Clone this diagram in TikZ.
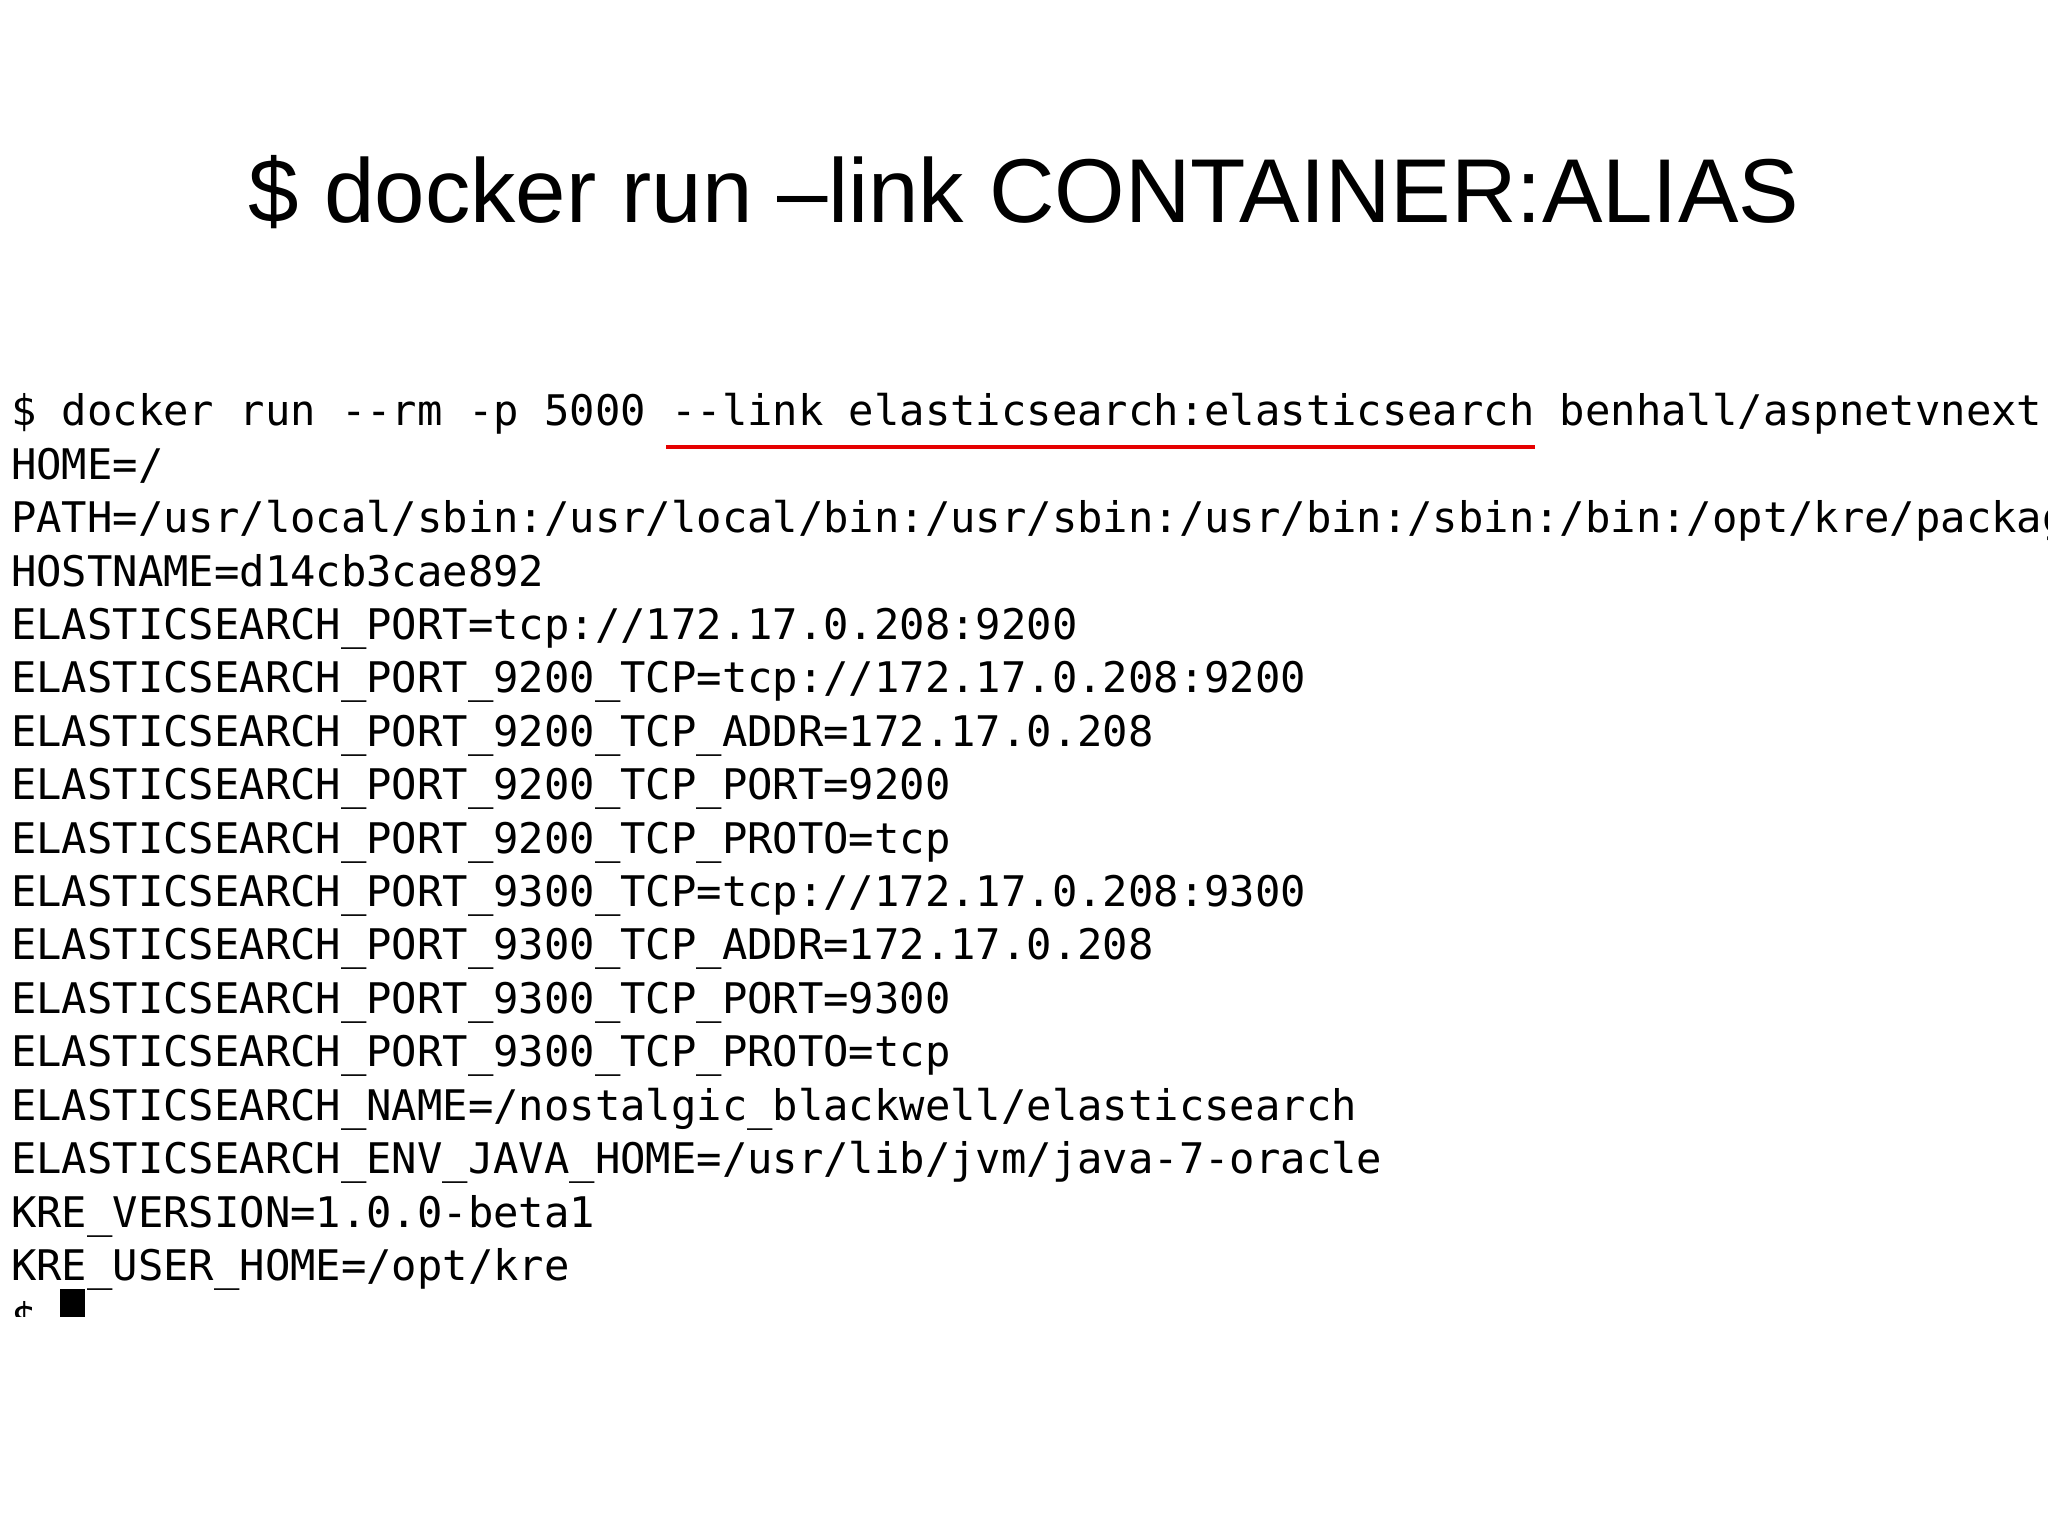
\documentclass[tikz,border=0pt]{standalone}
\usepackage{fontspec}
\setmainfont{Liberation Sans}
\newfontfamily\termfont{DejaVu Sans Mono}
\begin{document}
\begin{tikzpicture}[x=0.013061cm,y=-0.013061cm,
  term/.style={anchor=base west,inner sep=0pt,font=\termfont\fontsize{12.0pt}{14pt}\selectfont}]
\useasboundingbox (0,0) rectangle (1568,1176);
\fill[white] (0,0) rectangle (1568,1176);
\node[font=\fontsize{25.8pt}{30pt}\selectfont,anchor=base] (title) at (784,170) {\$ docker run –link CONTAINER:ALIAS};
\begin{scope}
\clip (0,290) rectangle (1568,1008);
\foreach \t [count=\i from 0] in {
 {\$ docker run --rm -p 5000 --link elasticsearch:elasticsearch benhall/aspnetvnext},
 {HOME=/},
 {PATH=/usr/local/sbin:/usr/local/bin:/usr/sbin:/usr/bin:/sbin:/bin:/opt/kre/packages},
 {HOSTNAME=d14cb3cae892},
 {ELASTICSEARCH\_PORT=tcp://172.17.0.208:9200},
 {ELASTICSEARCH\_PORT\_9200\_TCP=tcp://172.17.0.208:9200},
 {ELASTICSEARCH\_PORT\_9200\_TCP\_ADDR=172.17.0.208},
 {ELASTICSEARCH\_PORT\_9200\_TCP\_PORT=9200},
 {ELASTICSEARCH\_PORT\_9200\_TCP\_PROTO=tcp},
 {ELASTICSEARCH\_PORT\_9300\_TCP=tcp://172.17.0.208:9300},
 {ELASTICSEARCH\_PORT\_9300\_TCP\_ADDR=172.17.0.208},
 {ELASTICSEARCH\_PORT\_9300\_TCP\_PORT=9300},
 {ELASTICSEARCH\_PORT\_9300\_TCP\_PROTO=tcp},
 {ELASTICSEARCH\_NAME=/nostalgic\_blackwell/elasticsearch},
 {ELASTICSEARCH\_ENV\_JAVA\_HOME=/usr/lib/jvm/java-7-oracle},
 {KRE\_VERSION=1.0.0-beta1},
 {KRE\_USER\_HOME=/opt/kre},
 {\$}}
  \node[term] (l\i) at (8,{326+40.9*\i}) {\t};
\fill (46,987) rectangle (65,1010);
\end{scope}
\coordinate (u1) at (510,342);
\coordinate (u2) at (1175,342);
\draw[red!90!black,line width=1.1pt] (u1) -- (u2);
\end{tikzpicture}
\end{document}
